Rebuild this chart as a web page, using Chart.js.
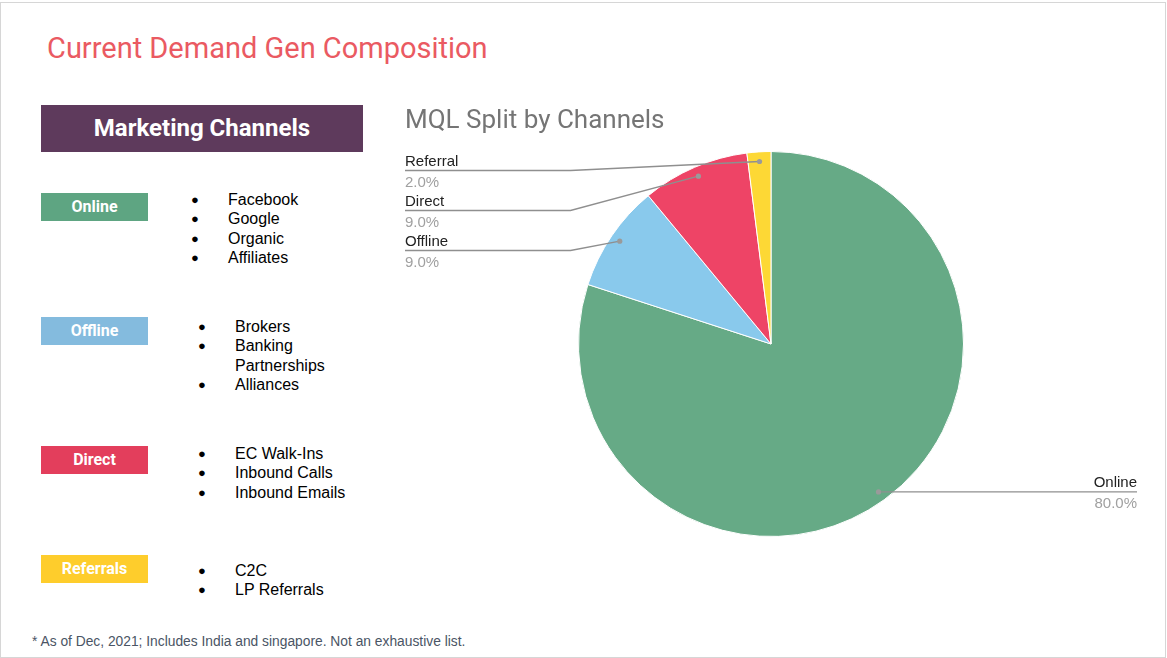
<!DOCTYPE html>
<html>
<head>
<meta charset="utf-8">
<script src="https://cdn.jsdelivr.net/npm/chart.js@4"></script>
<style>
  body { margin: 0; width: 1167px; height: 658px; position: relative; background: #fff; font-family: "Liberation Sans", Arial, sans-serif; overflow: hidden; }
  .frame { position: absolute; left: 0; top: 2px; width: 1166px; height: 656px; box-sizing: border-box; border: 1px solid #d6d6d6; }
  .heading { position: absolute; left: 47px; top: 31px; font-family: Roboto, sans-serif; font-size: 29px; color: #ea5a62; }
  .mc { position: absolute; left: 41px; top: 105px; width: 322px; height: 47px; background: #5e3a5c; color: #fff;
        font-family: Roboto, sans-serif; font-weight: bold; font-size: 24px; line-height: 47px; text-align: center; }
  .tag { position: absolute; left: 41px; width: 107px; height: 28px; color: #fff; font-family: Roboto, sans-serif;
         font-weight: bold; font-size: 16px; line-height: 28px; text-align: center; }
  ul { position: absolute; margin: 0; padding: 0; list-style: none; font-size: 16px; line-height: 19.3px; color: #000; }
  li { position: relative; padding-left: 35px; }
  li::before { content: "\25CF"; position: absolute; left: -2px; top: 0; font-size: 13px; }
  .note { position: absolute; left: 32px; top: 634px; font-size: 13.8px; color: #4a5565; }
  .chartbox { position: absolute; left: 400px; top: 100px; width: 750px; height: 460px; }
</style>
</head>
<body>
<div class="frame"></div>
<div class="heading">Current Demand Gen Composition</div>
<div class="mc">Marketing Channels</div>

<div class="tag" style="top:193px;background:#5ea582">Online</div>
<ul style="left:193px;top:190px">
  <li>Facebook</li><li>Google</li><li>Organic</li><li>Affiliates</li>
</ul>

<div class="tag" style="top:317px;background:#84bbde">Offline</div>
<ul style="left:200px;top:317px">
  <li>Brokers</li><li>Banking<br>Partnerships</li><li>Alliances</li>
</ul>

<div class="tag" style="top:446px;background:#e33e5c">Direct</div>
<ul style="left:200px;top:444px">
  <li>EC Walk-Ins</li><li>Inbound Calls</li><li>Inbound Emails</li>
</ul>

<div class="tag" style="top:555px;background:#fecd2c">Referrals</div>
<ul style="left:200px;top:561px">
  <li>C2C</li><li>LP Referrals</li>
</ul>

<div class="note">* As of Dec, 2021; Includes India and singapore. Not an exhaustive list.</div>

<div class="chartbox"><canvas id="pieChart"></canvas></div>

<script>
var channelLabels = ["Online", "Offline", "Direct", "Referral"];
var channelValues = [80, 9, 9, 2];
var channelColors = ["#66aa86", "#89c9ec", "#ee4466", "#fdd835"];

// draws the google-sheets style callouts: dot in slice, elbow, line under label
var leaderLines = {
  id: "leaderLines",
  afterDatasetsDraw: function(chart) {
    var ctx = chart.ctx;
    var area = chart.chartArea;
    var meta = chart.getDatasetMeta(0);
    var values = chart.data.datasets[0].data;
    var total = values.reduce(function(a, b) { return a + b; }, 0);
    var items = [];
    meta.data.forEach(function(arc, i) {
      var p = arc.getProps(["x", "y", "startAngle", "endAngle", "outerRadius"], true);
      var mid = (p.startAngle + p.endAngle) / 2;
      var r = p.outerRadius * 0.95;
      items.push({
        i: i, cx: p.x, R: p.outerRadius,
        dx: p.x + Math.cos(mid) * r, dy: p.y + Math.sin(mid) * r
      });
    });
    var left = items.filter(function(d) { return d.dx < d.cx; }).sort(function(a, b) { return a.dy - b.dy; });
    var right = items.filter(function(d) { return d.dx >= d.cx; });

    ctx.save();
    ctx.lineWidth = 1.3;
    ctx.strokeStyle = "#8f8f8f";
    ctx.font = "15px 'Liberation Sans', Arial, sans-serif";

    function label(d, x, y, align) {
      var pct = (values[d.i] / total * 100).toFixed(1) + "%";
      ctx.textAlign = align;
      ctx.textBaseline = "alphabetic";
      ctx.fillStyle = "#222";
      ctx.fillText(chart.data.labels[d.i], x, y - 4.5);
      ctx.fillStyle = "#a0a0a0";
      ctx.fillText(pct, x, y + 16);
    }
    function dot(d) {
      ctx.fillStyle = "#9a9a9a";
      ctx.beginPath();
      ctx.arc(d.dx, d.dy, 2.6, 0, Math.PI * 2);
      ctx.fill();
    }

    left.forEach(function(d, k) {
      var ly = area.top + 19.5 + k * 40;
      var ex = d.cx - d.R - 8;
      ctx.beginPath();
      ctx.moveTo(d.dx, d.dy);
      ctx.lineTo(ex, ly);
      ctx.lineTo(area.left, ly);
      ctx.stroke();
      dot(d);
      label(d, area.left, ly, "left");
    });
    right.forEach(function(d) {
      ctx.beginPath();
      ctx.moveTo(d.dx, d.dy);
      ctx.lineTo(area.right, d.dy);
      ctx.stroke();
      dot(d);
      label(d, area.right, d.dy, "right");
    });
    ctx.restore();
  }
};

new Chart("pieChart", {
  type: "pie",
  data: {
    labels: channelLabels,
    datasets: [{
      data: channelValues,
      backgroundColor: channelColors,
      borderColor: "#ffffff",
      borderWidth: 1
    }]
  },
  options: {
    responsive: true,
    maintainAspectRatio: false,
    animation: false,
    layout: { padding: { left: 5, right: 13, top: 0, bottom: 23 } },
    plugins: {
      legend: { display: false },
      tooltip: { enabled: false },
      title: {
        display: true,
        text: "MQL Split by Channels",
        align: "start",
        color: "#757575",
        font: { family: "Roboto", size: 26, weight: "normal", lineHeight: 1.2 },
        padding: { top: 6, bottom: 13.8 }
      }
    }
  },
  plugins: [leaderLines]
});
</script>
</body>
</html>
